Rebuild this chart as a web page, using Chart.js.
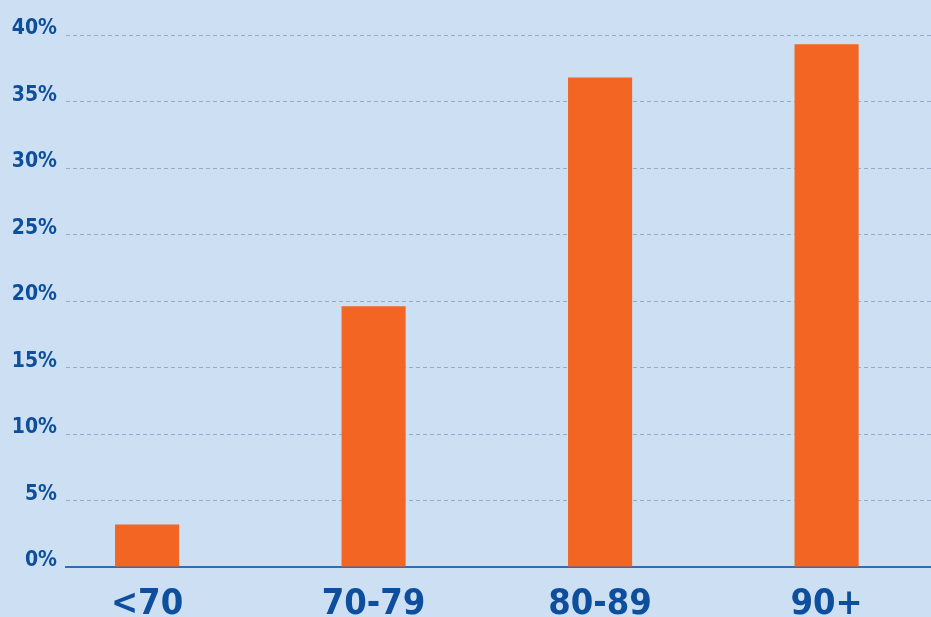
<!DOCTYPE html>
<html>
<head>
<meta charset="utf-8">
<script src="https://cdn.jsdelivr.net/npm/chart.js@4"></script>
<style>
  html, body { margin: 0; padding: 0; background: #cddff2; overflow: hidden; }
  #wrap { width: 931px; height: 617px; }
</style>
</head>
<body>
<div id="wrap"><canvas id="ageChart"></canvas></div>
<script>
let categories = ["<70", "70-79", "80-89", "90+"];
let shares = [3.2, 19.6, 36.8, 39.3];
let yTicks = [0, 5, 10, 15, 20, 25, 30, 35, 40];

let labelBlue = "#0d4f9c";
let font = "'DejaVu Sans Condensed', 'DejaVu Sans', sans-serif";

let ctx = document.getElementById("ageChart").getContext("2d");

window.myChart = new Chart(ctx, {
    type: 'bar',
    data: {
        datasets: [{
            data: shares.map((v, i) => ({ x: i, y: v })),
            backgroundColor: "#f26522",
            borderWidth: 0,
            barPercentage: 0.283,
            categoryPercentage: 1
        }]
    },
    options: {
        responsive: true,
        maintainAspectRatio: false,
        animation: false,
        layout: { padding: { top: 35, right: 0, left: 0, bottom: 0 } },
        plugins: { legend: { display: false }, tooltip: { enabled: false } },
        scales: {
            x: {
                type: 'linear',
                offset: false,
                min: -0.358,
                max: 3.461,
                grid: { display: false, drawTicks: false, offset: false },
                border: { display: true, color: "#2f6db5", width: 2 },
                afterBuildTicks: scale => { scale.ticks = categories.map((c, i) => ({ value: i })); },
                afterFit: scale => { scale.height = 50; },
                ticks: {
                    color: labelBlue,
                    padding: 16,
                    maxRotation: 0,
                    font: { family: font, size: 36, weight: 'bold' },
                    callback: v => categories[v]
                }
            },
            y: {
                min: 0,
                max: 40,
                afterBuildTicks: scale => { scale.ticks = yTicks.map(v => ({ value: v })); },
                afterFit: scale => { scale.width = 66; },
                grid: { color: "#93acd0", lineWidth: 1, drawTicks: false },
                border: { display: false, dash: [4, 3] },
                ticks: {
                    color: labelBlue,
                    padding: 9,
                    labelOffset: -6,
                    font: { family: font, size: 21, weight: 'bold' },
                    callback: v => v + "%"
                }
            }
        }
    }
});
</script>
</body>
</html>
